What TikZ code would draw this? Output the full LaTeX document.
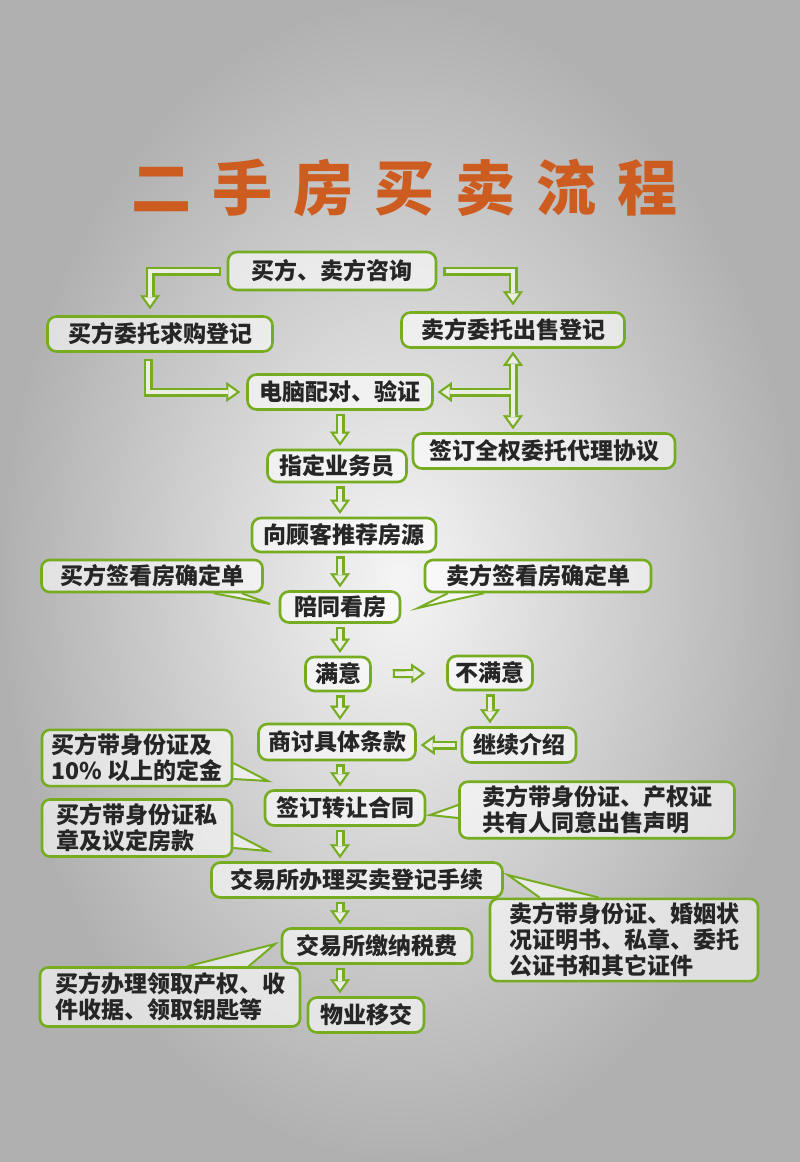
\documentclass[tikz,border=0pt]{standalone}
\usepackage{fontspec}
\newfontfamily\cjk{Noto Sans CJK SC}
\newfontfamily\titlefont[LetterSpace=35]{Noto Sans CJK SC}
\usetikzlibrary{arrows.meta,backgrounds}

\definecolor{lgreen}{RGB}{118,172,32}
\definecolor{arrowin}{RGB}{236,238,230}
\definecolor{titleorange}{RGB}{205,92,32}

\tikzset{
  OutTip/.tip={Triangle[length=14pt,width=20pt,line width=0.1pt]},
  InTip/.tip={Triangle[length=8pt,width=11.4pt,line width=0.1pt]},
  stepbox/.style={draw=lgreen,line width=2.6pt,rounded corners=9pt,fill=white,fill opacity=0.6,text opacity=1,text=black!85,font=\cjk\bfseries\fontsize{23}{26}\selectfont,minimum height=35pt,inner xsep=8pt,inner ysep=4pt},
  notebox/.style={stepbox,align=left,rounded corners=8pt},
  notetail/.style={draw=lgreen,line width=2pt,fill=white,fill opacity=0.6},
  gout/.style={draw=lgreen,line width=9pt},
  gin/.style={draw=arrowin,line width=4.6pt},
  garrow/.style={gout,-OutTip,shorten <=#1,shorten >=#1,
    postaction={gin,-InTip,shorten <=#1+2.2pt,shorten >=#1+3.8pt}},
  garrow/.default=3pt
}

\begin{document}
\begin{tikzpicture}[x=1pt,y=-1pt]

\useasboundingbox (0,0) rectangle (800,1162);
\begin{scope}[on background layer]
\shade[inner color=gray!8,outer color=gray!62] (0,0) rectangle (800,1162);
\end{scope}

% title
\node[anchor=west,text=titleorange,font=\titlefont\bfseries\fontsize{60}{66}\selectfont] (title) at (128,188) {二手房买卖流程};

% main steps
\node[stepbox,minimum width=208pt,minimum height=38pt] (zixun) at (332,271) {买方、卖方咨询};
\node[stepbox,minimum width=225pt] (qiugou) at (160,334) {买方委托求购登记};
\node[stepbox,minimum width=223pt] (chushou) at (513,330) {卖方委托出售登记};
\node[stepbox,minimum width=185pt] (peidui) at (340,392) {电脑配对、验证};
\node[stepbox,minimum width=262pt] (quanquan) at (544,451) {签订全权委托代理协议};
\node[stepbox,minimum width=139pt,minimum height=32pt] (yewu) at (337,466) {指定业务员};
\node[stepbox,minimum width=184pt,minimum height=34pt] (tuijian) at (344,535) {向顾客推荐房源};
\node[stepbox,minimum width=120pt,minimum height=31pt] (peitong) at (340,607) {陪同看房};
\node[stepbox,minimum width=65pt,minimum height=34pt] (manyi) at (338,674) {满意};
\node[stepbox,minimum width=85pt,minimum height=34pt] (bumanyi) at (490,673) {不满意};
\node[stepbox,minimum width=157pt,minimum height=36pt] (shangtao) at (337,742) {商讨具体条款};
\node[stepbox,minimum width=114pt] (jixu) at (519,745) {继续介绍};
\node[stepbox,minimum width=160pt] (zhuanrang) at (345,808) {签订转让合同};
\node[stepbox,minimum width=291pt] (dengji) at (357,880) {交易所办理买卖登记手续};
\node[stepbox,minimum width=190pt] (shuifei) at (377,946) {交易所缴纳税费};
\node[stepbox,minimum width=116pt] (yijiao) at (366,1015) {物业移交};

% notes
\node[notebox,minimum width=221pt,minimum height=32pt] (maikan) at (152,576) {买方签看房确定单};
\node[notebox,minimum width=226pt,minimum height=32pt] (maikan2) at (538,576) {卖方签看房确定单};
\node[notebox,minimum width=190pt,minimum height=56pt] (dingjin) at (137,758) {买方带身份证及\\10\% 以上的定金};
\node[notebox,minimum width=275pt,minimum height=53pt] (chanquan) at (597,810) {卖方带身份证、产权证\\共有人同意出售声明};
\node[notebox,minimum width=190pt,minimum height=57pt] (fangkuan) at (137,828) {买方带身份证私\\章及议定房款};
\node[notebox,minimum width=268pt,minimum height=81pt] (hunyin) at (624,940) {卖方带身份证、婚姻状\\况证明书、私章、委托\\公证书和其它证件};
\node[notebox,minimum width=260pt,minimum height=59pt] (lingqu) at (170,997) {买方办理领取产权、收\\件收据、领取钥匙等};

% note tails
\coordinate (maikan tip) at (270,604);
\coordinate (maikan2 tip) at (418,608);
\coordinate (dingjin tip) at (268,781);
\coordinate (fangkuan tip) at (268,851);
\coordinate (chanquan tip) at (430,815);
\coordinate (hunyin tip) at (508,875);
\coordinate (lingqu tip) at (275,944);
\begin{scope}[on background layer]
\draw[notetail] ([xshift=-50pt]maikan.south east) -- (maikan tip) -- ([xshift=-22pt]maikan.south east);
\draw[notetail] ([xshift=24pt]maikan2.south west) -- (maikan2 tip) -- ([xshift=60pt]maikan2.south west);
\draw[notetail] ([yshift=-5pt]dingjin.east) -- (dingjin tip) -- ([yshift=-21pt]dingjin.east);
\draw[notetail] ([yshift=-5pt]fangkuan.east) -- (fangkuan tip) -- ([yshift=-20pt]fangkuan.east);
\draw[notetail] ([yshift=5pt]chanquan.west) -- (chanquan tip) -- ([yshift=-8pt]chanquan.west);
\draw[notetail] ([xshift=51pt]hunyin.north west) -- (hunyin tip) -- ([xshift=110pt]hunyin.north west);
\draw[notetail] ([xshift=149pt]lingqu.north west) -- (lingqu tip) -- ([xshift=210pt]lingqu.north west);
\end{scope}

% arrows
\draw[garrow=6pt] (zixun.west) -| ([xshift=-10pt]qiugou.north);
\draw[garrow=6pt] (zixun.east) -| (chushou.north);
\draw[garrow=6pt] ([xshift=-12pt]qiugou.south) |- (peidui.west);

% seller branch, outer lines first so the junction stays open
\draw[gout,OutTip-OutTip,shorten <=3pt,shorten >=3pt] (chushou.south) -- (chushou.south |- quanquan.north);
\draw[gout,-OutTip,shorten >=4pt] (chushou.south |- peidui.east) -- (peidui.east);
\draw[gin,InTip-InTip,shorten <=6.8pt,shorten >=6.8pt] (chushou.south) -- (chushou.south |- quanquan.north);
\draw[gin,-InTip,shorten >=7.8pt] (chushou.south |- peidui.east) -- (peidui.east);

\coordinate (spine) at (340,0);
\foreach \a/\b in {peidui/yewu,yewu/tuijian,tuijian/peitong,peitong/manyi,manyi/shangtao,shangtao/zhuanrang,zhuanrang/dengji,dengji/shuifei,shuifei/yijiao}
  \draw[garrow] (\a.south -| spine) -- (\b.north -| spine);

\draw[garrow=21pt] (manyi.east) -- (bumanyi.west);
\draw[garrow] (bumanyi.south) -- (bumanyi.south |- jixu.north);
\draw[garrow=4pt] (jixu.west) -- (jixu.west -| shangtao.east);

\end{tikzpicture}
\end{document}
